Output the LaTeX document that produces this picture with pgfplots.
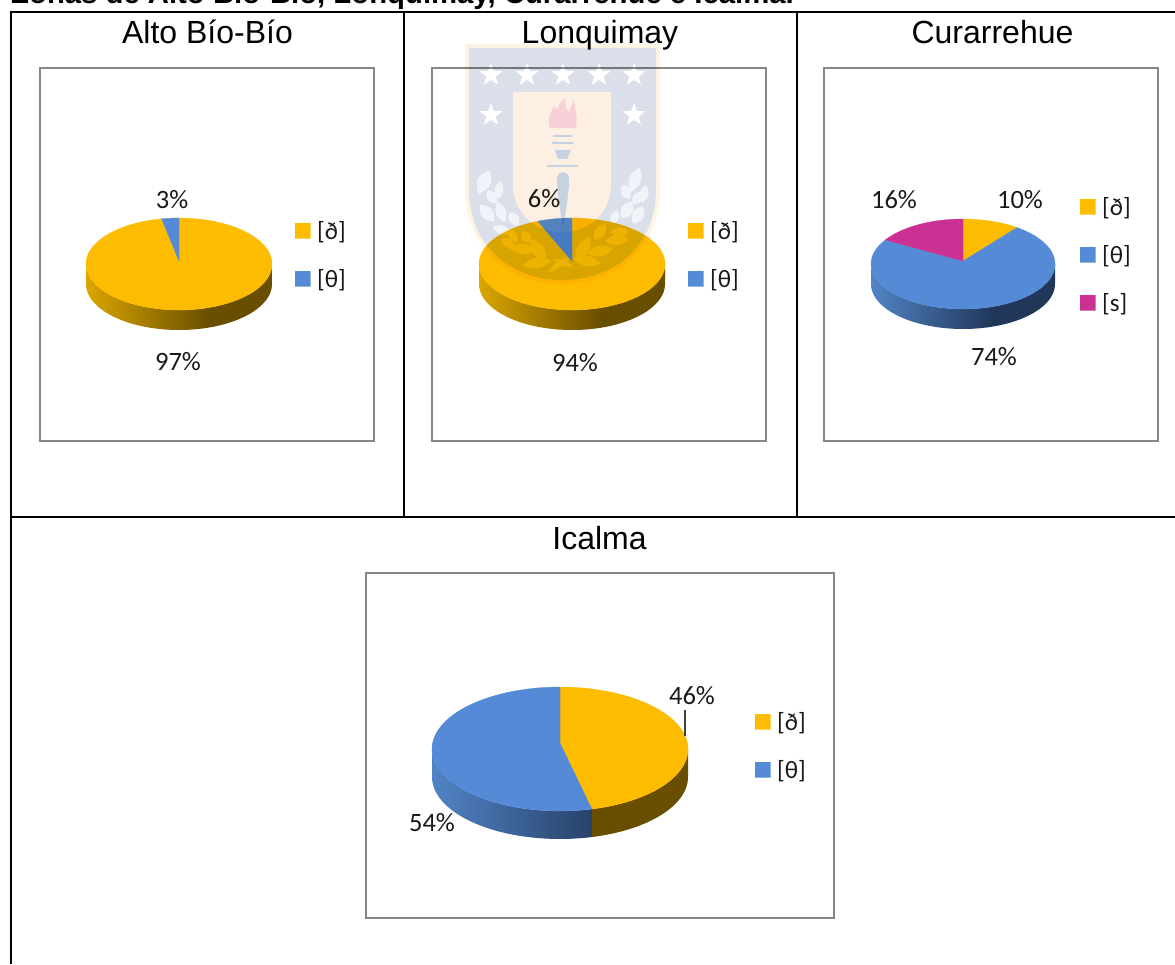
\documentclass[border=0pt]{standalone}
\usepackage{fontspec}
\setmainfont{Liberation Sans}
\newfontfamily\calibrilike{Carlito}
\usepackage{pgfplots}
\pgfplotsset{compat=1.18}
\usetikzlibrary{shapes.geometric}

\definecolor{gold}{HTML}{FDBC00}
\definecolor{azul}{HTML}{558BD6}
\definecolor{magenta2}{HTML}{CB3192}
\definecolor{goldL}{HTML}{DAA600}
\definecolor{goldD}{HTML}{6A4E00}
\definecolor{azulL}{HTML}{5184C6}
\definecolor{azulD}{HTML}{20375A}
\definecolor{azulE}{HTML}{28426A}
\definecolor{marco}{HTML}{868686}
\definecolor{escudo}{HTML}{DADFE9}
\definecolor{borde}{HTML}{FEF4E4}
\definecolor{panel}{HTML}{FDF0E2}
\definecolor{llama}{HTML}{F7D0D8}
\definecolor{antorcha}{HTML}{C6D1E2}
\definecolor{hoja}{HTML}{F0F3F8}

% side walls of the pies: lit on the left, in shadow from two thirds of the width on
\pgfdeclarehorizontalshading{goldside}{100bp}{color(0bp)=(goldL); color(25bp)=(goldL); color(58bp)=(goldD); color(100bp)=(goldD)}
\pgfdeclarehorizontalshading{goldpart}{100bp}{color(0bp)=(goldD); color(100bp)=(goldD)}
\pgfdeclarehorizontalshading{azulside}{100bp}{color(0bp)=(azulL); color(25bp)=(azulL); color(58bp)=(azulD); color(100bp)=(azulD)}
\pgfdeclarehorizontalshading{azulpart}{100bp}{color(0bp)=(azulL); color(25bp)=(azulL); color(75bp)=(azulE); color(100bp)=(azulE)}

% pie state: centre x, centre y, radii, apex y, wall depth
\newcommand\pieinit[6]{\def\pcx{#1}\def\pcy{#2}\def\prx{#3}\def\pry{#4}\def\pay{#5}\def\pdp{#6}\gdef\pcum{0}}
% append an elliptical arc, given in percent clockwise from the top
\newcommand\appendarc[3]{%
  \pgfmathtruncatemacro\nseg{max(2,ceil(abs(#2-#1)*1.2))}%
  \pgfplotsforeachungrouped \k in {0,...,\nseg}{%
    \pgfmathsetmacro\pth{(#1+(#2-#1)*\k/\nseg)*3.6}%
    \pgfmathsetmacro\ppx{\pcx+\prx*sin(\pth)}%
    \pgfmathsetmacro\ppy{\pcy+#3-\pry*cos(\pth)}%
    \xdef\pts{\pts (\ppx,\ppy)}%
  }%
}
% one slice: colour, percent, shading of its wall
\newcommand\slice[3]{%
  \pgfmathsetmacro\pfrom{\pcum}%
  \pgfmathsetmacro\pto{\pcum+#2}%
  \pgfmathsetmacro\plo{max(\pfrom,25)}%
  \pgfmathsetmacro\phig{min(\pto,75)}%
  \ifdim\phig pt>\plo pt\relax
    \gdef\pts{}%
    \appendarc{\plo}{\phig}{0}%
    \appendarc{\phig}{\plo}{\pdp}%
    \edef\doplot{\noexpand\addplot[draw=none,shade,shading=#3,forget plot] coordinates {\pts};}\doplot
  \fi
  \xdef\pts{(\pcx,\pay)}%
  \appendarc{\pfrom}{\pto}{0}%
  \edef\doplot{\noexpand\addplot[draw=#1,line width=0.3pt,fill=#1,forget plot] coordinates {\pts (\pcx,\pay)};}\doplot
  \xdef\pcum{\pto}%
}
% legend swatch: colour, left x, top y
\newcommand\swatch[3]{%
  \pgfmathsetmacro\sxb{#2+15.5}\pgfmathsetmacro\syb{#3+15.5}%
  \edef\doplot{\noexpand\addplot[draw=none,fill=#1,forget plot] coordinates {(#2,#3) (\sxb,#3) (\sxb,\syb) (#2,\syb) (#2,#3)};}\doplot
}

\tikzset{
  valor/.style={font=\calibrilike\fontsize{26.5}{28}\selectfont,inner sep=0pt,text=black!90},
  ley/.style={font=\calibrilike\fontsize{25}{28}\selectfont,inner sep=0pt,anchor=west,text=black!90},
  titulo/.style={font=\fontsize{32}{36}\selectfont,inner sep=0pt,anchor=base},
  estrella/.style={star,star points=5,star point ratio=2.4,fill=white,draw=none,inner sep=0pt,minimum size=24pt},
}

\begin{document}
\begin{tikzpicture}[x=1pt,y=1pt]
\useasboundingbox (0,0) rectangle (1175,964);

% table rules and chart frames
\begin{scope}[shift={(0pt,964pt)},x=1pt,y=-1pt]
  \node[font=\bfseries\fontsize{29.3}{32}\selectfont,anchor=base west,inner sep=0pt] at (11,4) {Zonas de Alto Bío-Bío, Lonquimay, Curarrehue e Icalma.};
  \draw[line width=2pt] (1175,12) -- (11,12) -- (11,964);
  \draw[line width=1.5pt] (404,12) -- (404,517);
  \draw[line width=1.5pt] (797,12) -- (797,517);
  \draw[line width=1.5pt] (11,517) -- (1175,517);
  \draw[marco,line width=1.4pt] (40,68) rectangle (374,441);
  \draw[marco,line width=1.4pt] (432,68) rectangle (766,441);
  \draw[marco,line width=1.4pt] (824,68) rectangle (1158,441);
  \draw[marco,line width=1.4pt] (366,573) rectangle (834,918);
\end{scope}

\begin{axis}[
  at={(0pt,0pt)},anchor=south west,
  width=1175pt,height=964pt,scale only axis,
  xmin=0,xmax=1175,ymin=0,ymax=964,y dir=reverse,
  axis lines=none,clip=false,
]
% Alto Bío-Bío
\pieinit{179}{264}{93}{46}{261}{20}
\slice{gold}{97}{goldside}
\slice{azul}{3}{azulside}
\swatch{gold}{295}{223}
\swatch{azul}{295}{271}
% Lonquimay
\pieinit{572}{264}{93}{46}{261}{20}
\slice{gold}{94}{goldside}
\slice{azul}{6}{azulside}
\swatch{gold}{688}{223}
\swatch{azul}{688}{271}
% Curarrehue
\pieinit{963}{264}{92}{45}{261}{20}
\slice{gold}{10}{goldside}
\slice{azul}{74}{azulside}
\slice{magenta2}{16}{azulside}
\swatch{gold}{1080}{199}
\swatch{azul}{1080}{247}
\swatch{magenta2}{1080}{295}
% Icalma
\pieinit{560}{749}{128}{62}{743}{28}
\slice{gold}{46}{goldpart}
\slice{azul}{54}{azulpart}
\swatch{gold}{755}{714}
\swatch{azul}{755}{762}
\addplot[draw=black!75,line width=1.2pt,forget plot] coordinates {(685,710) (685,736)};

% panel titles
\node[titulo] at (axis cs:207.5,43) {Alto Bío-Bío};
\node[titulo] at (axis cs:600,43) {Lonquimay};
\node[titulo] at (axis cs:992.5,43) {Curarrehue};
\node[titulo] at (axis cs:599.5,549) {Icalma};

% value labels
\node[valor] at (axis cs:172,200) {3\%};
\node[valor] at (axis cs:178,362) {97\%};
\node[valor] at (axis cs:544,199) {6\%};
\node[valor] at (axis cs:575,363) {94\%};
\node[valor] at (axis cs:894,200) {16\%};
\node[valor] at (axis cs:1020,200) {10\%};
\node[valor] at (axis cs:994,357) {74\%};
\node[valor] at (axis cs:692,696) {46\%};
\node[valor] at (axis cs:432,823) {54\%};

% legend entries
\node[ley] at (axis cs:317,232) {[ð]};
\node[ley] at (axis cs:317,280) {[θ]};
\node[ley] at (axis cs:710,232) {[ð]};
\node[ley] at (axis cs:710,280) {[θ]};
\node[ley] at (axis cs:1102,208) {[ð]};
\node[ley] at (axis cs:1102,256) {[θ]};
\node[ley] at (axis cs:1102,304) {[s]};
\node[ley] at (axis cs:777,723) {[ð]};
\node[ley] at (axis cs:777,771) {[θ]};
\end{axis}

% university crest printed across the page
\begin{scope}[blend mode=multiply]
\begin{scope}[transparency group]
\begin{scope}[shift={(0pt,964pt)},x=1pt,y=-1pt,blend mode=normal]
  \fill[borde] (465,44) -- (660,44) -- (660,190) .. controls (660,248) and (616,284) .. (562.5,284) .. controls (509,284) and (465,248) .. (465,190) -- cycle;
  \fill[escudo] (469,48) -- (656,48) -- (656,190) .. controls (656,245) and (615,280) .. (562.5,280) .. controls (510,280) and (469,245) .. (469,190) -- cycle;
  \fill[panel] (513,92) -- (611,92) -- (611,185) .. controls (611,212) and (590,232) .. (562,232) .. controls (534,232) and (513,212) .. (513,185) -- cycle;
  \foreach \sx in {491,527,563,599,634}
    \node[estrella] at (\sx,75) {};
  \foreach \sx in {491,634}
    \node[estrella] at (\sx,115) {};
  % torch
  \fill[llama] (550,128) .. controls (546,118) and (552,112) .. (554,106) .. controls (556,110) and (557,110) .. (558,108) .. controls (559,103) and (562,100) .. (566,98) .. controls (564,106) and (566,110) .. (569,112) .. controls (571,108) and (572,104) .. (574,100) .. controls (575,110) and (578,118) .. (576,128) -- cycle;
  \draw[antorcha,line width=2pt] (553,136) -- (572,136);
  \draw[antorcha,line width=2pt] (552,143) -- (573,143);
  \fill[antorcha] (555,150) -- (571,150) -- (567,159) -- (558,159) -- cycle;
  \draw[antorcha,line width=2pt] (547,166) -- (578,166);
  \fill[antorcha] (557,179) .. controls (557,170) and (569,170) .. (569,179) .. controls (569,195) and (565,215) .. (563,228) .. controls (561,215) and (557,195) .. (557,179) -- cycle;
  % laurel leaves: centre x, centre y, tilt, control width, half length
  \foreach \lx/\ly/\rot/\ra/\rb in {
    484/182/-25/9/13, 499/190/-5/6/9, 492/197/35/7/8, 487/213/40/8/11,
    501/212/20/7/11, 514/219/35/7/8, 502/230/70/6/10,
    508/243/60/6/8, 513/236/30/6/8, 526/237/35/7/7, 523/249/85/7/14,
    538/250/35/8/13, 537/263/-80/7/15, 558/265/-55/4/13, 563/263/70/4/10,
    583/249/-30/8/14, 587/261/80/7/14, 600/251/-80/7/13, 600/232/-35/7/10,
    617/240/-85/7/12, 620/232/-90/6/9,
    635/180/-20/8/13, 626/192/25/7/8, 644/194/-10/6/9, 638/198/-40/7/8,
    627/210/-30/8/10, 638/215/-30/8/10, 615/217/-20/6/7}
    \fill[hoja,shift={(\lx,\ly)},rotate=\rot] (0,\rb) .. controls (\ra,{0.3*\rb}) and (\ra,{-0.3*\rb}) .. (0,-\rb) .. controls (-\ra,{-0.3*\rb}) and (-\ra,{0.3*\rb}) .. cycle;
\end{scope}
\end{scope}
\end{scope}
\end{tikzpicture}
\end{document}
